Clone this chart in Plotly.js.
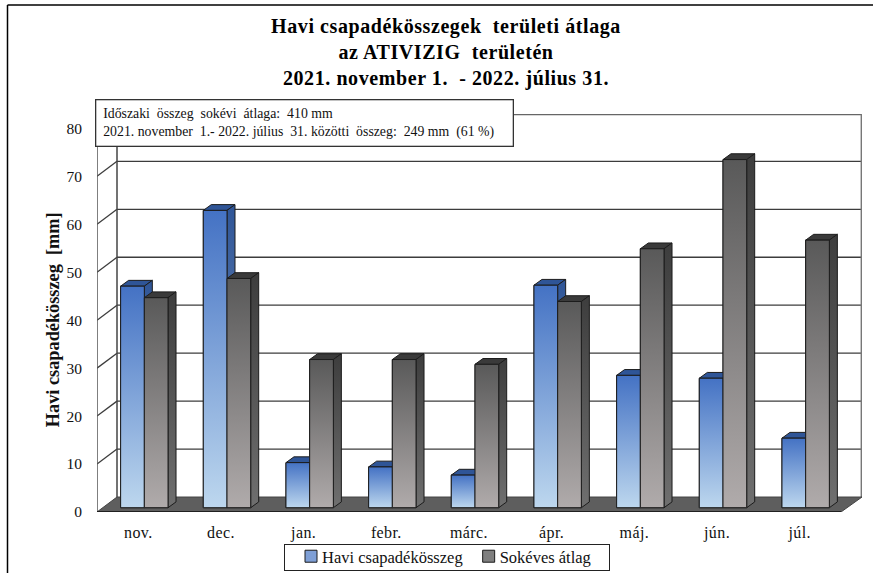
<!DOCTYPE html>
<html>
<head>
<meta charset="utf-8">
<script src="https://cdn.plot.ly/plotly-3.0.1.min.js"></script>
<style>html,body{margin:0;padding:0;background:#fff}#chart{width:873px;height:573px}
.gtitle{letter-spacing:.58px}
.xtick text{letter-spacing:.4px}
.legend .bg{x:3.5px;y:6.5px;width:325px;height:26px}
.legend .legendpoints{transform:translate(9px,0)}
.legend .traces:nth-child(2) .legendpoints{transform:translate(1px,0)}
.legend .traces:nth-child(2) .legendtext{transform:translate(-8px,0)}
</style>
</head>
<body>
<div id="chart"></div>
<script>
// ---- data ----
const months = ['nov.','dec.','jan.','febr.','márc.','ápr.','máj.','jún.','júl.'];
const haviOsszeg = [46.2,62.0,9.4,8.5,6.8,46.4,27.6,27.0,14.5];
const sokevesAtlag = [43.8,47.8,30.9,30.9,29.9,43.0,54.0,72.6,55.8];
const yTicks = [0,10,20,30,40,50,60,70,80];
const seriesNames = ['Havi csapadékösszeg','Sokéves átlag'];

// ---- page geometry (px) ----
const W=873,H=573, L=97,R=11,B=61, YMAX=83, XMAX=9.254;
const pxPerCat=82.67, pxPerVal=4.8;
const T=H-B-YMAX*pxPerVal;
const PW=W-L-R, PH=H-T-B;
const px=x=>(x-L)/PW, py=y=>(H-B-y)/PH;

// oblique depth, in axis units
const wallDx=20/pxPerCat, wallDy=15/pxPerVal;
const barDx=6/pxPerCat,  barDy=4.3/pxPerVal;
const sideDx=8/pxPerCat, sideDy=5.8/pxPerVal;
const barW=23.7/pxPerCat;
const centers=months.map((_,i)=>i+0.5);

const serif='"Liberation Serif","Times New Roman",serif';
const edge='#1c1c1c';
const styles=[
 {mid:'#7e9fd6',front:['#4472c4','#bdd7ee'],side:['#2f5597','#7f9bc3'],top:'#2f5597',off:-barW/2},
 {mid:'#7f7f7f',front:['#595959','#b0abab'],side:['#3d3d3d','#6f6f6f'],top:'#3a3a3a',off:barW/2}
];

function grad(c){return {type:'vertical',colorscale:[[0,c[1]],[1,c[0]]]};}
function poly(xs,ys,extra){
  return Object.assign({x:xs,y:ys,mode:'lines',fill:'toself',showlegend:false,hoverinfo:'skip',
    line:{color:edge,width:1}},extra);
}

const traces=[];
[haviOsszeg,sokevesAtlag].forEach((vals,s)=>{
  const st=styles[s];
  traces.push({type:'bar',name:seriesNames[s],x:centers.map(c=>c+barDx+st.off),y:vals,
    base:vals.map(()=>barDy),width:barW,
    marker:{color:st.mid,line:{color:edge,width:1}},hovertemplate:'%{text}: %{y} mm<extra>'+seriesNames[s]+'</extra>',text:months,textposition:'none'});
});
months.forEach((m,i)=>{
  [haviOsszeg,sokevesAtlag].forEach((vals,s)=>{
    const st=styles[s], v=vals[i];
    const x0=centers[i]+barDx+st.off-barW/2, x1=x0+barW, y0=barDy, y1=barDy+v;
    traces.push(poly([x0,x0+sideDx,x1+sideDx,x1,x0],[y1,y1+sideDy,y1+sideDy,y1,y1],{fillcolor:st.top}));
    traces.push(poly([x1,x1+sideDx,x1+sideDx,x1,x1],[y1,y1+sideDy,y0+sideDy,y0,y1],{fillgradient:grad(st.side)}));
    traces.push(poly([x0,x1,x1,x0,x0],[y0,y0,y1,y1,y0],{fillgradient:grad(st.front)}));
  });
});

// walls, floor, grid as layout shapes under the bars
function seg(x0,y0,x1,y1,color,width){
  return {type:'line',xref:'x',yref:'y',x0,y0,x1,y1,layer:'below',line:{color,width}};
}
const shapes=[];
const xBack=wallDx, yBack=wallDy, xEnd=XMAX;
yTicks.slice(1).forEach(t=>{
  shapes.push(seg(xBack,t+yBack,xEnd,t+yBack,'#3c3c3c',1.3));
  shapes.push(seg(0,t,xBack,t+yBack,'#3c3c3c',1.3));
});
shapes.push(seg(0,0,0,YMAX-3,'#555',1.5));
shapes.push(seg(xBack,yBack,xBack,YMAX,'#444',1.5));
shapes.push(seg(xBack,YMAX-0.1,xEnd,YMAX-0.1,'#666',1.5));
shapes.push(seg(xEnd-0.005,yBack,xEnd-0.005,YMAX,'#777',2));
shapes.push({type:'path',xref:'x',yref:'y',layer:'below',
  path:`M0,0 L9,0 L${xEnd},${yBack} L${xBack},${yBack} Z`,fillcolor:'#5e5e5e',line:{color:'#444',width:1}});
shapes.push(seg(0,0,9,0,'#111',1.5));
// outer frame (top and left edges only)
shapes.push({type:'line',xref:'paper',yref:'paper',x0:px(7.5),x1:px(873),y0:py(4.5),y1:py(4.5),line:{color:'#000',width:1.5}});
shapes.push({type:'line',xref:'paper',yref:'paper',x0:px(7.5),x1:px(7.5),y0:py(4.5),y1:py(573),line:{color:'#000',width:1.5}});

const layout={
  width:W,height:H,autosize:false,
  margin:{l:L,r:R,t:T,b:B,pad:0},
  paper_bgcolor:'#fff',plot_bgcolor:'#fff',
  barmode:'overlay',
  font:{family:serif,color:'#111'},
  title:{text:'Havi csapadékösszegek\u00a0 területi átlaga<br>az ATIVIZIG\u00a0 területén<br>2021. november 1.\u00a0 - 2022. július 31.',
    font:{family:serif,size:20,color:'#000',weight:700},
    x:446/W,xanchor:'center',y:1-33/H,yanchor:'top',automargin:false},
  xaxis:{range:[0,XMAX],tickmode:'array',tickvals:centers,ticktext:months,showgrid:false,zeroline:false,showline:false,
    ticks:'',ticklabelstandoff:9,tickfont:{family:serif,size:16,color:'#111'},fixedrange:true},
  yaxis:{range:[0,YMAX],tickmode:'array',tickvals:yTicks,showgrid:false,zeroline:false,showline:false,
    ticks:'',ticklabelstandoff:14,tickfont:{family:serif,size:15.5,color:'#111'},fixedrange:true},
  legend:{orientation:'h',xref:'container',yref:'container',x:281/W,y:1-538/H,xanchor:'left',yanchor:'top',bgcolor:'#fff',bordercolor:'#222',borderwidth:1,
    font:{family:serif,size:16.5,color:'#111'},itemclick:false,itemdoubleclick:false,traceorder:'normal'},
  shapes,
  annotations:[
    {xref:'paper',yref:'paper',x:px(53),y:py(320),text:'Havi csapadékösszeg\u00a0 [mm]',textangle:-90,showarrow:false,
     xanchor:'center',yanchor:'middle',font:{family:serif,size:18.3,color:'#111',weight:700}},
    {xref:'paper',yref:'paper',x:px(95),y:py(99),xanchor:'left',yanchor:'top',showarrow:false,align:'left',
     width:416,height:45,valign:'middle',bgcolor:'#fff',bordercolor:'#333',borderwidth:1.3,borderpad:0,
     text:'\u00a0\u00a0Időszaki\u00a0 összeg\u00a0 sokévi\u00a0 átlaga:\u00a0 410 mm<br>\u00a0\u00a02021. november\u00a0 1.- 2022. július\u00a0 31. közötti\u00a0 összeg:\u00a0 249 mm\u00a0 (61 %)',
     font:{family:serif,size:13.8,color:'#111'}}
  ]
};
Plotly.newPlot('chart',traces,layout,{displayModeBar:false});
</script>
</body>
</html>
